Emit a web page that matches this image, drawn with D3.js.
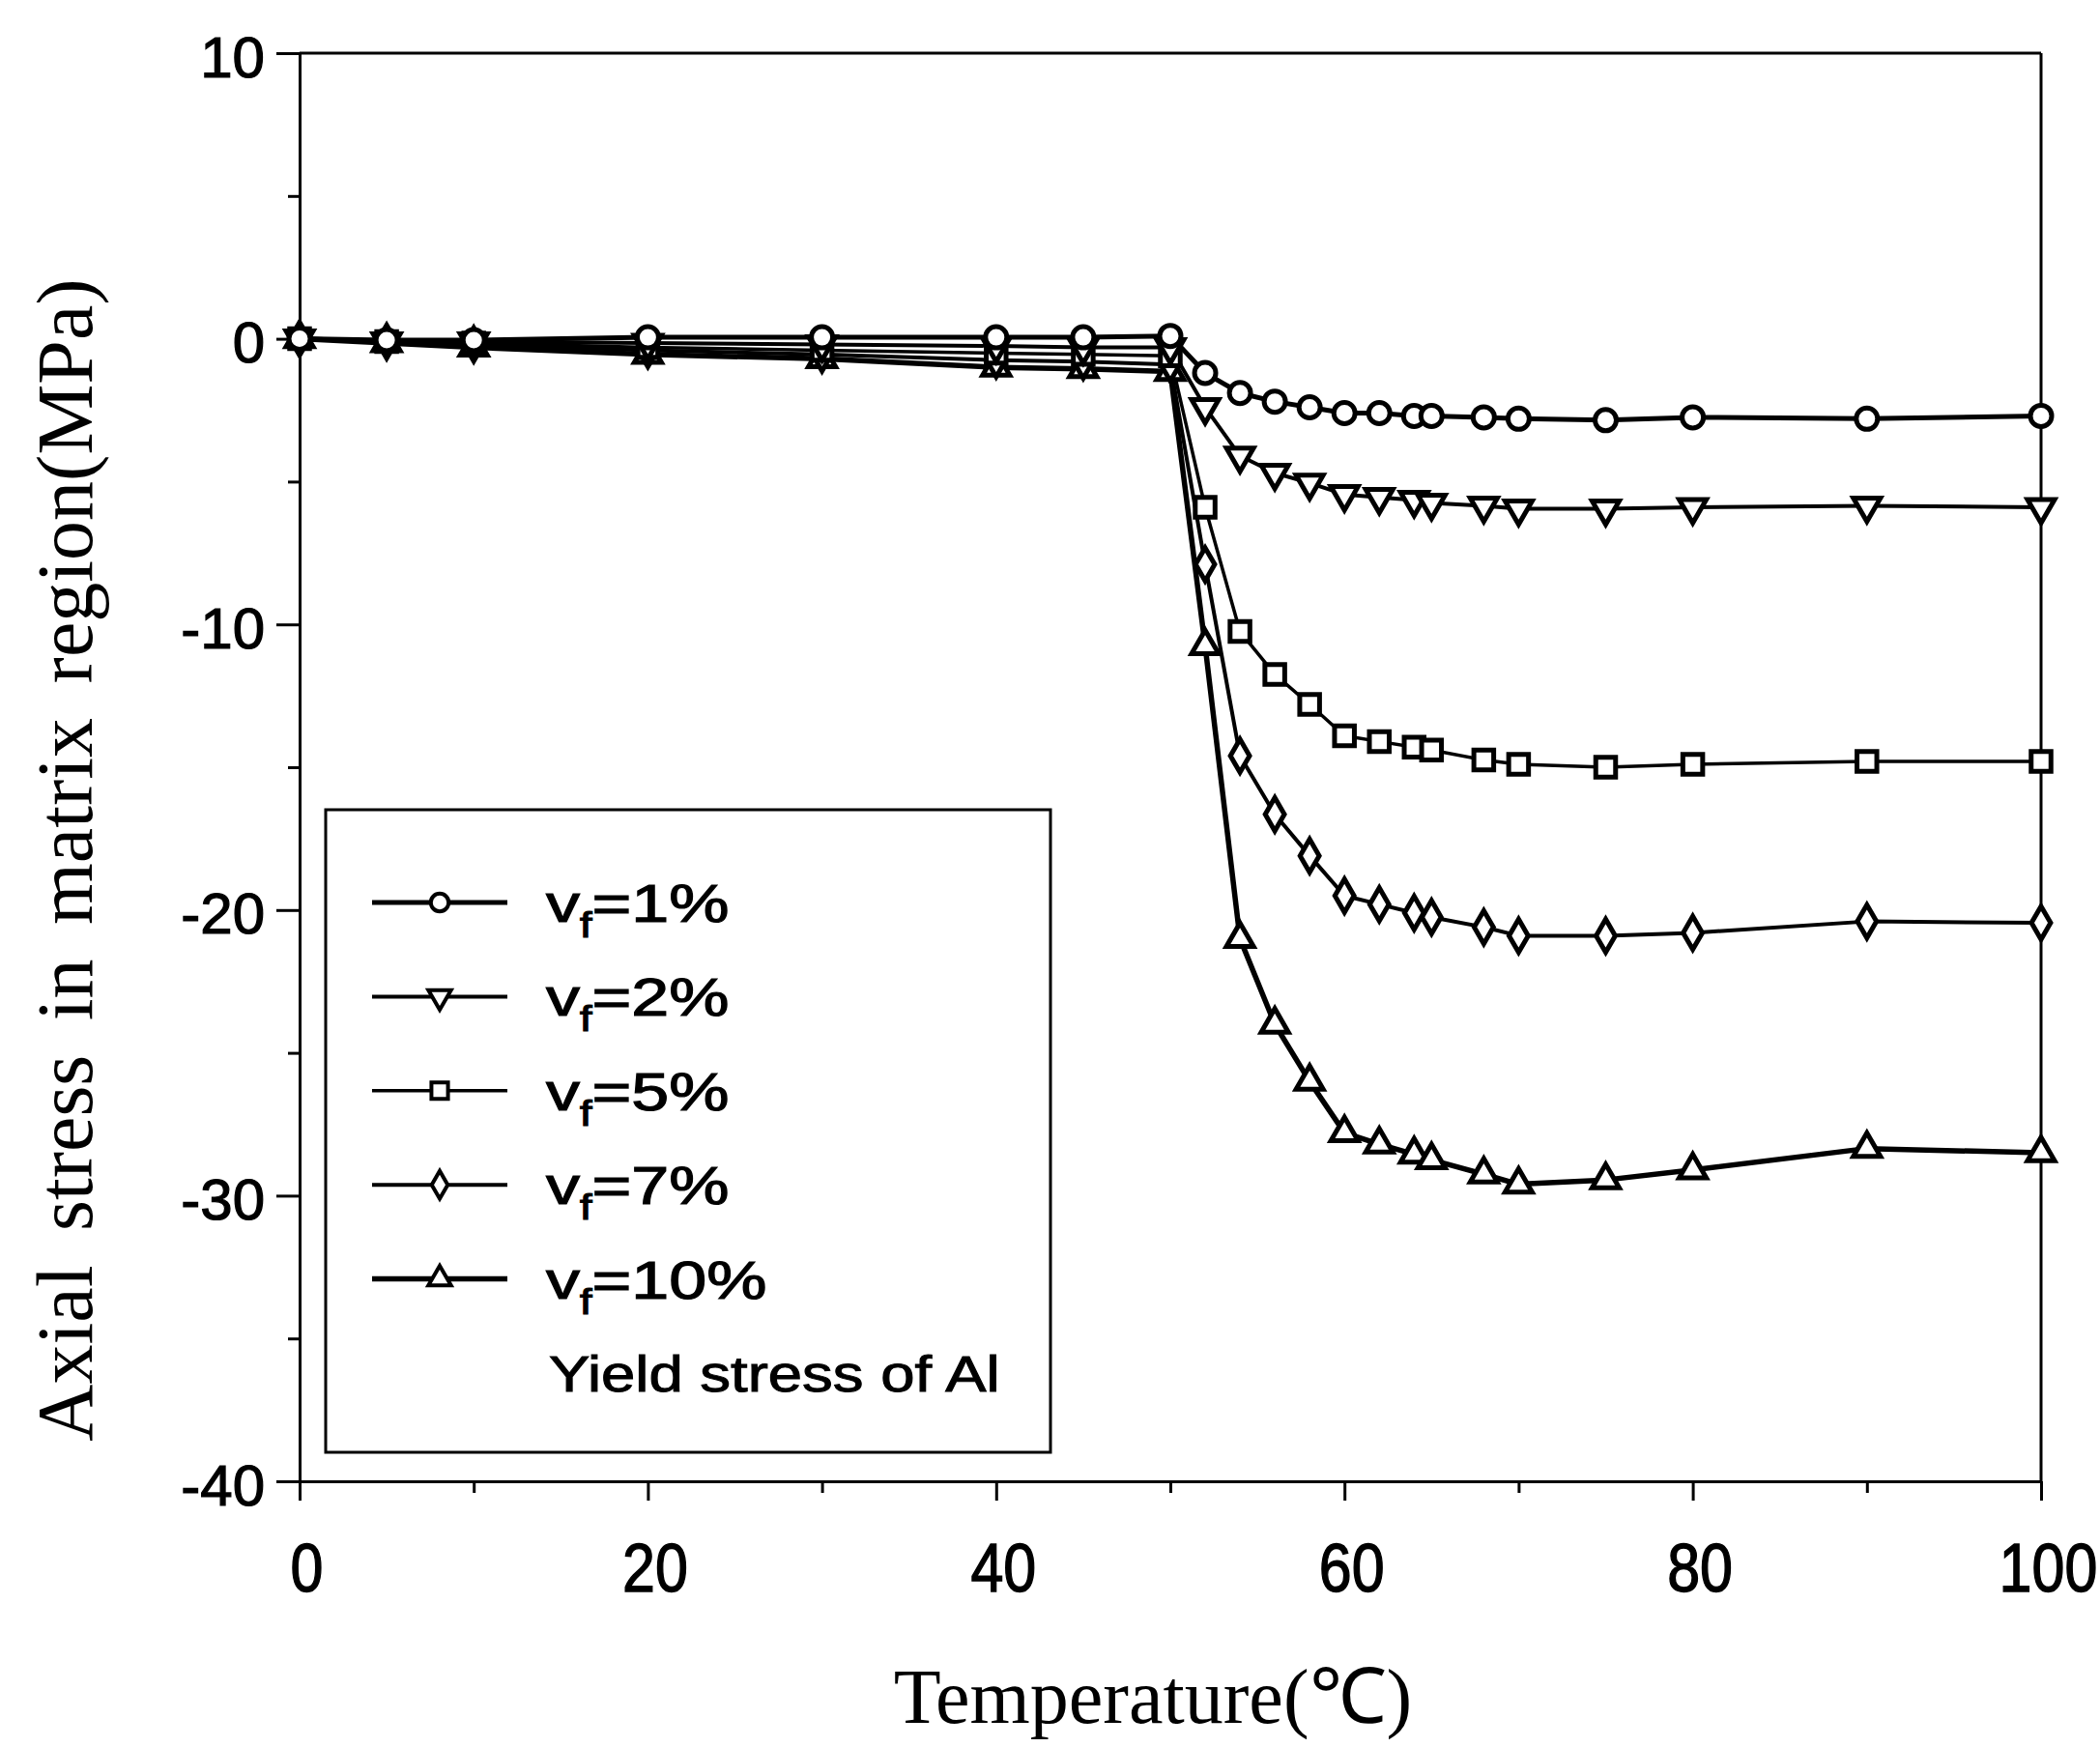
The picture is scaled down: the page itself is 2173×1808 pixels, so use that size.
<!DOCTYPE html>
<html>
<head>
<meta charset="utf-8">
<script src="https://cdn.jsdelivr.net/npm/d3@7"></script>
<style>
  body { margin: 0; background: #fff; }
  svg { display: block; }
</style>
</head>
<body>
<svg id="chart"></svg>
<script>
// temperature (deg C) of every computed point
const temperature = [0, 5, 10, 20, 30, 40, 45, 50, 52, 54, 56, 58, 60, 62, 64, 65, 68, 70, 75, 80, 90, 100]

// axial stress in the matrix region (MPa), one array per fibre volume fraction
const stressVf1 = [0, -0.05, -0.05, 0.05, 0.05, 0.05, 0.05, 0.1, -1.2, -1.9, -2.2, -2.4, -2.6, -2.6, -2.7, -2.7, -2.75, -2.8, -2.85, -2.75, -2.8, -2.7]
const stressVf2 = [0, -0.1, -0.1, -0.15, -0.2, -0.25, -0.3, -0.3, -2.4, -4.1, -4.7, -5.05, -5.45, -5.55, -5.65, -5.75, -5.85, -5.95, -5.95, -5.9, -5.85, -5.9]
const stressVf5 = [0, -0.1, -0.15, -0.3, -0.4, -0.5, -0.55, -0.6, -5.9, -10.25, -11.75, -12.8, -13.9, -14.1, -14.3, -14.4, -14.75, -14.9, -15.0, -14.9, -14.8, -14.8]
const stressVf7 = [0, -0.1, -0.2, -0.4, -0.55, -0.75, -0.8, -0.9, -7.9, -14.6, -16.65, -18.1, -19.5, -19.8, -20.1, -20.25, -20.6, -20.9, -20.9, -20.8, -20.4, -20.45]
const stressVf10 = [0, -0.15, -0.3, -0.55, -0.7, -1.0, -1.05, -1.15, -10.75, -21.0, -24.0, -26.0, -27.8, -28.2, -28.55, -28.75, -29.25, -29.6, -29.45, -29.1, -28.35, -28.5]

const seriesLabels = ['1%', '2%', '5%', '7%', '10%']
const xTickValues = [0, 20, 40, 60, 80, 100]
const xMinorTicks = [10, 30, 50, 70, 90]
const yTickValues = [10, 0, -10, -20, -30, -40]
const yMinorTicks = [5, -5, -15, -25, -35]

const width = 2173
const height = 1808

const series = [
  { label: seriesLabels[0], values: stressVf1, symbol: d3.symbolCircle, size: 380, rotate: 0, lineWidth: 5 },
  { label: seriesLabels[1], values: stressVf2, symbol: d3.symbolTriangle, size: 340, rotate: 180, lineWidth: 4 },
  { label: seriesLabels[2], values: stressVf5, symbol: d3.symbolSquare, size: 420, rotate: 0, lineWidth: 3.5 },
  { label: seriesLabels[3], values: stressVf7, symbol: d3.symbolDiamond, size: 340, rotate: 0, lineWidth: 4 },
  { label: seriesLabels[4], values: stressVf10, symbol: d3.symbolTriangle, size: 340, rotate: 0, lineWidth: 5.5 }
]

const x = d3.scaleLinear().domain([0, 100]).range([310, 2112])
const y = d3.scaleLinear().domain([-40, 10]).range([1533, 55])

const svg = d3.select('#chart')
  .attr('width', width)
  .attr('height', height)
  .attr('viewBox', `0 0 ${width} ${height}`)

svg.append('rect')
  .attr('width', width)
  .attr('height', height)
  .attr('fill', '#fff')

const sansFont = '"Liberation Sans", Arial, Helvetica, sans-serif'
const serifFont = '"Liberation Serif", "Times New Roman", serif'

// axes
const yMinor = svg.append('g')
  .attr('transform', `translate(${x(0)},0)`)
  .call(d3.axisLeft(y).tickValues(yMinorTicks).tickSize(12).tickSizeOuter(0).tickFormat(''))
yMinor.select('.domain').remove()

const yAxis = svg.append('g')
  .attr('transform', `translate(${x(0)},0)`)
  .call(d3.axisLeft(y).tickValues(yTickValues).tickSize(24).tickSizeOuter(0).tickPadding(12).tickFormat(d => String(d)))

yAxis.selectAll('text')
  .attr('font-family', sansFont)
  .attr('font-size', 60)
  .attr('fill', '#000')
  .attr('stroke', '#000')
  .attr('stroke-width', 1.2)
  .attr('dy', '0.4em')

const xMinor = svg.append('g')
  .attr('transform', `translate(0,${y(-40)})`)
  .call(d3.axisBottom(x).tickValues(xMinorTicks).tickSize(12).tickSizeOuter(0).tickFormat(''))
xMinor.select('.domain').remove()

const xAxis = svg.append('g')
  .attr('transform', `translate(0,${y(-40)})`)
  .call(d3.axisBottom(x).tickValues(xTickValues).tickSize(20).tickSizeOuter(0).tickFormat(d => String(d)))

xAxis.selectAll('text')
  .attr('font-family', sansFont)
  .attr('font-size', 61)
  .attr('fill', '#000')
  .attr('stroke', '#000')
  .attr('stroke-width', 1.2)
  .attr('y', 0)
  .attr('dy', null)
  .attr('transform', 'translate(7,114) scale(1,1.15)')

svg.selectAll('.tick line, .domain')
  .attr('stroke', '#000')
  .attr('stroke-width', 3)

// top and right frame
svg.append('line')
  .attr('x1', x(0)).attr('x2', x(100))
  .attr('y1', y(10)).attr('y2', y(10))
  .attr('stroke', '#000').attr('stroke-width', 3)

svg.append('line')
  .attr('x1', x(100)).attr('x2', x(100))
  .attr('y1', y(10)).attr('y2', y(-40))
  .attr('stroke', '#000').attr('stroke-width', 3)

// axis titles
svg.append('text')
  .attr('x', 1193)
  .attr('y', 1783)
  .attr('text-anchor', 'middle')
  .attr('font-family', serifFont)
  .attr('font-size', 80)
  .attr('fill', '#000')
  .text('Temperature(℃)')

svg.append('text')
  .attr('transform', 'translate(95,890) rotate(-90)')
  .attr('text-anchor', 'middle')
  .attr('font-family', serifFont)
  .attr('font-size', 82)
  .attr('word-spacing', 15)
  .attr('fill', '#000')
  .text('Axial stress in matrix region(MPa)')

// curves
const line = d3.line()
  .x((d, i) => x(temperature[i]))
  .y(d => y(d))

const plot = svg.append('g')

series.slice().reverse().forEach(s => {
  plot.append('path')
    .datum(s.values)
    .attr('fill', 'none')
    .attr('stroke', '#000')
    .attr('stroke-width', s.lineWidth)
    .attr('stroke-linejoin', 'round')
    .attr('d', line)
})

series.slice().reverse().forEach(s => {
  plot.selectAll(null)
    .data(s.values)
    .enter()
    .append('path')
    .attr('transform', (d, i) => `translate(${x(temperature[i])},${y(d)}) rotate(${s.rotate})`)
    .attr('d', d3.symbol().type(s.symbol).size(s.size))
    .attr('fill', '#fff')
    .attr('stroke', '#000')
    .attr('stroke-width', 5)
})

// legend
const legend = svg.append('g')

legend.append('rect')
  .attr('x', 337)
  .attr('y', 838)
  .attr('width', 750)
  .attr('height', 665)
  .attr('fill', '#fff')
  .attr('stroke', '#000')
  .attr('stroke-width', 3)

const rowY = d3.scaleLinear().domain([0, 5]).range([934, 1421])

series.forEach((s, i) => {
  const row = legend.append('g')
    .attr('transform', `translate(0,${rowY(i)})`)

  row.append('line')
    .attr('x1', 385).attr('x2', 525)
    .attr('y1', 0).attr('y2', 0)
    .attr('stroke', '#000')
    .attr('stroke-width', s.lineWidth)

  row.append('path')
    .attr('transform', `translate(455,0) rotate(${s.rotate})`)
    .attr('d', d3.symbol().type(s.symbol).size(s.size * 0.7))
    .attr('fill', '#fff')
    .attr('stroke', '#000')
    .attr('stroke-width', 4)

  const label = row.append('text')
    .attr('transform', 'translate(565,20) scale(1.25,1)')
    .attr('font-family', sansFont)
    .attr('font-size', 56)
    .attr('fill', '#000')
    .attr('stroke', '#000')
    .attr('stroke-width', 1.2)

  label.append('tspan').text('v')
  label.append('tspan')
    .attr('font-size', 36)
    .attr('dy', 16)
    .text('f')
  label.append('tspan')
    .attr('dy', -16)
    .text('=' + s.label)
})

legend.append('text')
  .attr('transform', `translate(568,${rowY(5) + 19}) scale(1.22,1)`)
  .attr('font-family', sansFont)
  .attr('font-size', 52)
  .attr('fill', '#000')
  .attr('stroke', '#000')
  .attr('stroke-width', 1)
  .text('Yield stress of Al')
</script>
</body>
</html>
